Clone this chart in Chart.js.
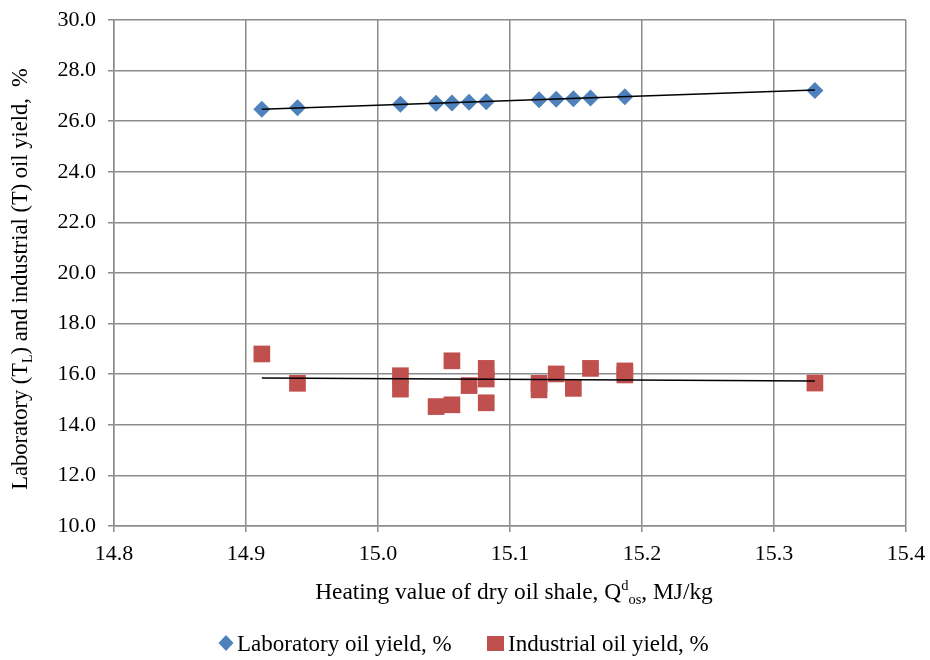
<!DOCTYPE html>
<html>
<head>
<meta charset="utf-8">
<script src="https://cdn.jsdelivr.net/npm/chart.js@4.4.0/dist/chart.umd.min.js"></script>
<style>
  html, body { margin: 0; padding: 0; background: #fff; }
</style>
</head>
<body>
<canvas id="grafico" width="930" height="660"></canvas>
<script>
// heating value (x) and laboratory oil yield
const labHeat = [14.912, 14.939, 15.017, 15.044, 15.056, 15.069, 15.082, 15.122, 15.135, 15.148, 15.161, 15.187, 15.331];
const labYield = [26.47, 26.53, 26.67, 26.71, 26.72, 26.75, 26.77, 26.85, 26.87, 26.89, 26.92, 26.97, 27.21];

// industrial oil yield
const indHeat = [14.912, 14.939, 15.017, 15.017, 15.044, 15.056, 15.056, 15.069, 15.082, 15.082, 15.082, 15.122, 15.122, 15.135, 15.148, 15.161, 15.187, 15.187, 15.331];
const indYield = [16.80, 15.64, 15.94, 15.41, 14.72, 16.53, 14.79, 15.55, 16.23, 15.81, 14.87, 15.64, 15.38, 16.01, 15.44, 16.23, 16.13, 15.97, 15.65];

// trend lines (end points)
const labTrendX = [14.912, 15.331];
const labTrendY = [26.47, 27.23];
const indTrendX = [14.912, 15.331];
const indTrendY = [15.85, 15.73];

const xRange = [14.8, 15.4];
const yRange = [10, 30];

const labels = ['Laboratory oil yield, %', 'Industrial oil yield, %'];

const serif = "'Liberation Serif', 'Times New Roman', serif";

function pts(xs, ys) {
  return xs.map((x, i) => ({ x: x, y: ys[i] }));
}

// text with sub/superscripts, centred on x
function drawRich(ctx, parts, x, y, size) {
  let w = 0;
  parts.forEach(p => {
    ctx.font = (p.s ? size * 0.62 : size) + 'px ' + serif;
    p.w = ctx.measureText(p.t).width;
    w += p.w;
  });
  let cx = x - w / 2;
  ctx.textBaseline = 'alphabetic';
  ctx.textAlign = 'left';
  parts.forEach(p => {
    ctx.font = (p.s ? size * 0.62 : size) + 'px ' + serif;
    let dy = 0;
    if (p.s === 'sub') dy = size * 0.2;
    if (p.s === 'sup') dy = -size * 0.4;
    ctx.fillText(p.t, cx, y + dy);
    cx += p.w;
  });
}

const extras = {
  id: 'extras',
  afterDraw(chart) {
    const ctx = chart.ctx;
    const a = chart.chartArea;
    ctx.save();
    ctx.fillStyle = '#000';
    // x title
    drawRich(ctx, [
      { t: 'Heating value of dry oil shale, Q' },
      { t: 'd', s: 'sup' },
      { t: 'os', s: 'sub' },
      { t: ', MJ/kg' }
    ], (a.left + a.right) / 2 + 4, 599, 23.4);
    // y title
    ctx.save();
    ctx.translate(27, (a.top + a.bottom) / 2 + 6);
    ctx.rotate(-Math.PI / 2);
    drawRich(ctx, [
      { t: 'Laboratory (T' },
      { t: 'L', s: 'sub' },
      { t: ') and industrial (T) oil yield,  %' }
    ], 0, 0, 22.5);
    ctx.restore();

    // legend
    const ly = 643;
    ctx.font = '23px ' + serif;
    ctx.textBaseline = 'alphabetic';
    ctx.textAlign = 'left';
    ctx.fillStyle = '#4F81BD';
    ctx.beginPath();
    ctx.moveTo(226, ly - 8); ctx.lineTo(233.5, ly); ctx.lineTo(226, ly + 8); ctx.lineTo(218.5, ly);
    ctx.closePath(); ctx.fill();
    ctx.fillStyle = '#000';
    ctx.fillText(labels[0], 237, 651);
    ctx.fillStyle = '#C0504D';
    ctx.fillRect(487, 636, 17, 15);
    ctx.fillStyle = '#000';
    ctx.fillText(labels[1], 508, 651);
    ctx.restore();
  }
};

const ctx = document.querySelector('#grafico');

new Chart(ctx, {
  type: 'scatter',
  data: {
    datasets: [
      {
        label: 'lab trend',
        type: 'line',
        data: pts(labTrendX, labTrendY),
        borderColor: '#000',
        borderWidth: 1.5,
        pointRadius: 0,
        fill: false,
        order: 0
      },
      {
        label: 'ind trend',
        type: 'line',
        data: pts(indTrendX, indTrendY),
        borderColor: '#000',
        borderWidth: 1.5,
        pointRadius: 0,
        fill: false,
        order: 0
      },
      {
        label: labels[0],
        data: pts(labHeat, labYield),
        pointStyle: 'rectRot',
        pointRadius: 8.5,
        pointHoverRadius: 8.5,
        backgroundColor: '#4F81BD',
        borderColor: '#4F81BD',
        borderWidth: 0,
        order: 1
      },
      {
        label: labels[1],
        data: pts(indHeat, indYield),
        pointStyle: 'rect',
        pointRadius: 11.8,
        pointHoverRadius: 11.8,
        backgroundColor: '#C0504D',
        borderColor: '#C0504D',
        borderWidth: 0,
        order: 1
      }
    ]
  },
  options: {
    responsive: false,
    animation: false,
    events: [],
    layout: { padding: { left: 0, top: 20, right: 24, bottom: 0 } },
    plugins: {
      legend: { display: false },
      tooltip: { enabled: false }
    },
    scales: {
      x: {
        type: 'linear',
        min: xRange[0],
        max: xRange[1],
        ticks: {
          stepSize: 0.1,
          color: '#000',
          padding: 9,
          font: { family: serif, size: 22 },
          callback: v => Number(v).toFixed(1)
        },
        grid: { color: '#8c8c8c', lineWidth: 1.5, tickLength: 6 },
        border: { color: '#8c8c8c', width: 1.5 },
        afterFit: s => { s.height = 134; s.paddingLeft = 0; s.paddingRight = 0; }
      },
      y: {
        type: 'linear',
        min: yRange[0],
        max: yRange[1],
        ticks: {
          stepSize: 2,
          color: '#000',
          padding: 12,
          font: { family: serif, size: 22 },
          callback: v => Number(v).toFixed(1)
        },
        grid: { color: '#8c8c8c', lineWidth: 1.5, tickLength: 6 },
        border: { color: '#8c8c8c', width: 1.5 },
        afterFit: s => { s.width = 114; s.paddingTop = 0; s.paddingBottom = 0; }
      }
    }
  },
  plugins: [extras]
});
</script>
</body>
</html>
